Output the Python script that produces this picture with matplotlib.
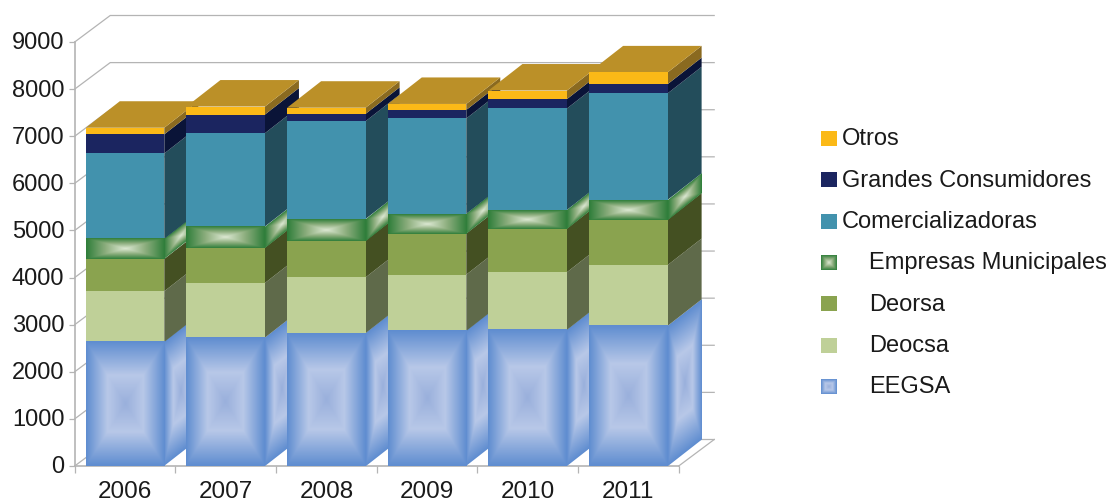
import numpy as np
import matplotlib
matplotlib.use('Agg')
import matplotlib.pyplot as plt
from matplotlib.colors import LinearSegmentedColormap
from matplotlib.transforms import Affine2D, ScaledTranslation

plt.rcParams['font.family'] = ['Liberation Sans', 'DejaVu Sans']

# ------------------------------------------
# Data
# ------------------------------------------
years = ['2006', '2007', '2008', '2009', '2010', '2011']
y_ticks = [0, 1000, 2000, 3000, 4000, 5000, 6000, 7000, 8000, 9000]

eegsa = [2633, 2725, 2820, 2867, 2889, 2975]
deocsa = [1077, 1160, 1185, 1196, 1225, 1290]
deorsa = [685, 750, 780, 871, 926, 965]
municipales = [425, 450, 460, 419, 397, 420]
comercializadoras = [1815, 1980, 2075, 2024, 2152, 2260]
grandes = [405, 395, 155, 181, 199, 195]
otros = [140, 170, 130, 127, 182, 250]

names = ['EEGSA', 'Deocsa', 'Deorsa', 'Empresas Municipales',
         'Comercializadoras', 'Grandes Consumidores', 'Otros']
series = [eegsa, deocsa, deorsa, municipales, comercializadoras, grandes, otros]
front_colors = ['#8FAADC', '#BFD098', '#8AA34F', '#6FA060', '#4292AD', '#1B2560', '#FBB917']
side_colors = ['#8FAADC', '#5F6A4A', '#445022', '#6FA060', '#234D5B', '#0A1438', '#8A6A20']
top_color = '#BB9028'

# gradient faces
blue_cmap = LinearSegmentedColormap.from_list(
    'blue', [(0, '#5F8DD0'), (0.55, '#B8C8E8'), (1, '#9AB0DC')])
green_cmap = LinearSegmentedColormap.from_list(
    'green', [(0, '#2F7E3A'), (0.5, '#8DAE7E'), (1, '#DCE8D2')])
gradients = {0: blue_cmap, 3: green_cmap}

# rectangular gradient: 0 on the edges, 1 in the centre
u, v = np.meshgrid(np.linspace(0, 1, 160), np.linspace(0, 1, 160))
rect_grad = np.minimum.reduce([u, 1 - u, v, 1 - v]) * 2

# ------------------------------------------
# Figure
# ------------------------------------------
W, H = 1108, 502
fig = plt.figure(figsize=(W / 100, H / 100), dpi=100, facecolor='white')
ax = fig.add_axes([74.7 / W, (H - 467) / H, 604 / W, 424 / H])
ax.patch.set_visible(False)

px_x = 6 / 604
px_y = 9000 / 424
bar_width = 78.5 * px_x
bar_dx, bar_dy = 34 * px_x, 26.5 * px_y
wall_dx, wall_dy = 35.5 * px_x, 26.5 * px_y
grid_color = '#B4B4B4'

# back wall and floor lines
for tick in y_ticks:
    ax.plot([0, wall_dx, 6 + wall_dx], [tick, tick + wall_dy, tick + wall_dy],
            color=grid_color, lw=0.9, zorder=1, clip_on=False)
ax.plot([6, 6 + wall_dx], [0, wall_dy], color=grid_color, lw=0.9, zorder=1, clip_on=False)

# bars, left to right so each one covers the side of the last
for i in range(len(years)):
    z = 3 + i
    x0 = i + 0.5 - bar_width / 2
    x1 = x0 + bar_width
    bottom = 0
    for s, values in enumerate(series):
        val = values[i]
        # side face
        if s in gradients:
            ax.imshow(rect_grad, cmap=gradients[s], extent=(0, 1, 0, 1), aspect='auto',
                      interpolation='bilinear', zorder=z, clip_on=False,
                      transform=Affine2D(np.array([[bar_dx, 0, x1], [bar_dy, val, bottom], [0, 0, 1]])) + ax.transData)
        else:
            ax.fill([x1, x1 + bar_dx, x1 + bar_dx, x1],
                    [bottom, bottom + bar_dy, bottom + val + bar_dy, bottom + val],
                    color=side_colors[s], lw=0, zorder=z, clip_on=False)
        # front face
        ax.bar(i + 0.5, val, width=bar_width, bottom=bottom, color=front_colors[s],
               lw=0, zorder=z + 0.2, clip_on=False)
        if s in gradients:
            ax.imshow(rect_grad, cmap=gradients[s], extent=(x0, x1, bottom, bottom + val),
                      aspect='auto', interpolation='bilinear', zorder=z + 0.3, clip_on=False)
        bottom += val
    # top face
    ax.fill([x0, x1, x1 + bar_dx, x0 + bar_dx],
            [bottom, bottom, bottom + bar_dy, bottom + bar_dy],
            color=top_color, lw=0, zorder=z + 0.1, clip_on=False)

# axes
ax.set_xlim(0, 6)
ax.set_ylim(0, 9000)
for side in ['top', 'right']:
    ax.spines[side].set_visible(False)
for side in ['left', 'bottom']:
    ax.spines[side].set_color(grid_color)
    ax.spines[side].set_linewidth(1.2)
    ax.spines[side].set_zorder(2)
ax.set_yticks(y_ticks)
ax.tick_params(axis='y', length=4.5, width=0.9, color=grid_color, labelsize=17,
               labelcolor='#1A1A1A', pad=3)
up = ScaledTranslation(0, 1.5 / 72, fig.dpi_scale_trans)
for label in ax.get_yticklabels():
    label.set_transform(label.get_transform() + up)
ax.set_xticks(range(7))
ax.set_xticklabels([])
ax.set_xticks(np.arange(len(years)) + 0.5, labels=years, minor=True)
ax.tick_params(axis='x', which='major', length=5, width=0.9, color=grid_color)
ax.tick_params(axis='x', which='minor', length=0, labelsize=17.5, labelcolor='#1A1A1A', pad=10)

# ------------------------------------------
# Legend (pixel coordinates)
# ------------------------------------------
leg = fig.add_axes([0, 0, 1, 1], xlim=(0, W), ylim=(H, 0))
leg.axis('off')
leg.patch.set_visible(False)
for row, s in enumerate(range(len(names) - 1, -1, -1)):
    yc = 139.5 + row * 41.3
    if s in gradients:
        leg.imshow(rect_grad, cmap=gradients[s], extent=(821, 836.5, yc + 7.5, yc - 7.5),
                   aspect='auto', interpolation='bilinear')
    else:
        leg.fill([821, 836.5, 836.5, 821], [yc - 7.5, yc - 7.5, yc + 7.5, yc + 7.5],
                 color=front_colors[s], lw=0)
    text_x = 842 if row < 3 else 869
    leg.text(text_x, yc, names[s], fontsize=17, color='#1A1A1A', va='center', ha='left')
leg.set_xlim(0, W)
leg.set_ylim(H, 0)

plt.savefig('out.png', dpi=100)
